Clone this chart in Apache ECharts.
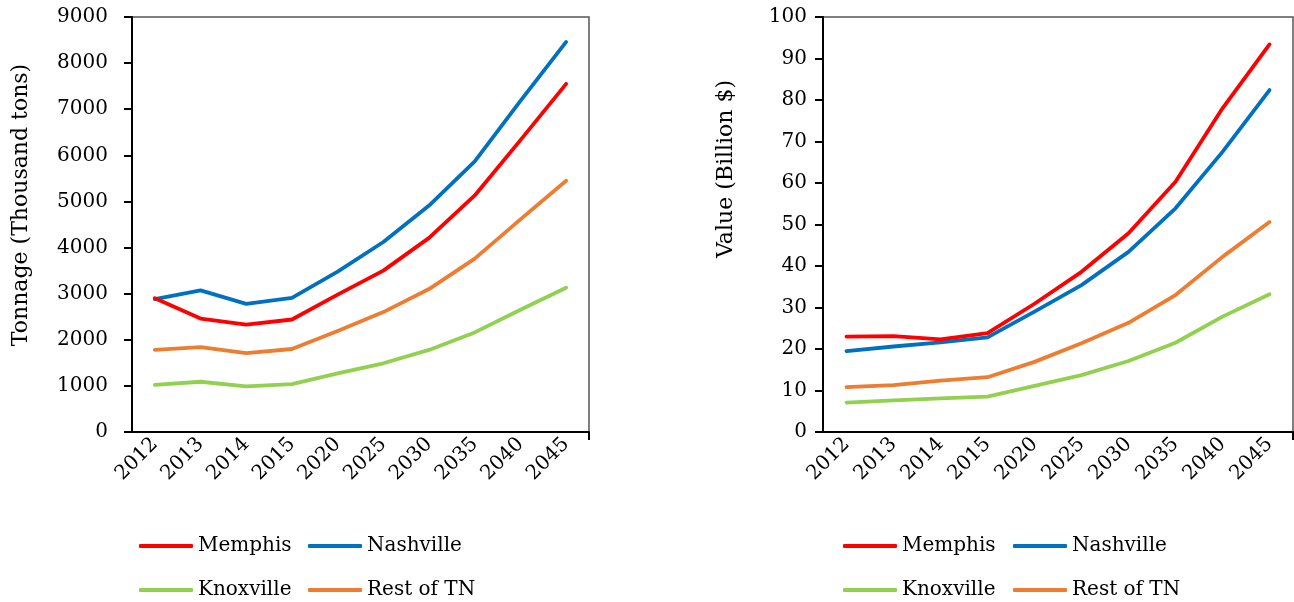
<!DOCTYPE html>
<html>
<head>
<meta charset="utf-8">
<script src="https://cdn.jsdelivr.net/npm/echarts@6/dist/echarts.min.js"></script>
<style>
  html, body { margin: 0; padding: 0; background: #fff; }
  #chart { width: 1294px; height: 602px; }
</style>
</head>
<body>
<div id="chart"></div>
<script>
// Freight forecasts by region: tonnage and value
const years = ['2012', '2013', '2014', '2015', '2020', '2025', '2030', '2035', '2040', '2045'];
const regions = ['Memphis', 'Nashville', 'Knoxville', 'Rest of TN'];
const colors = ['#FF0000', '#0070C0', '#92D050', '#ED7D31'];

// Tonnage (thousand tons)
const tonMemphis   = [2900, 2460, 2330, 2440, 2980, 3500, 4210, 5130, 6330, 7550];
const tonNashville = [2880, 3070, 2780, 2910, 3480, 4120, 4910, 5870, 7180, 8460];
const tonKnoxville = [1020, 1090, 990, 1040, 1270, 1490, 1780, 2160, 2650, 3130];
const tonRest      = [1780, 1840, 1710, 1800, 2190, 2600, 3100, 3760, 4610, 5450];

// Value (billion $)
const valMemphis   = [23.0, 23.1, 22.3, 23.8, 30.9, 38.6, 47.9, 60.3, 78.0, 93.4];
const valNashville = [19.5, 20.6, 21.6, 22.8, 29.0, 35.4, 43.4, 53.9, 67.5, 82.4];
const valKnoxville = [7.1, 7.6, 8.1, 8.5, 11.1, 13.7, 17.1, 21.5, 27.8, 33.2];
const valRest      = [10.8, 11.3, 12.4, 13.2, 16.9, 21.4, 26.3, 33.0, 42.2, 50.6];

const tonTicks = { min: 0, max: 9000, interval: 1000 };
const valTicks = { min: 0, max: 100, interval: 10 };
const tonTitle = 'Tonnage (Thousand tons)';
const valTitle = 'Value (Billion $)';

const FONT = 'DejaVu Serif';
const W = 1294;

// Plot layout
const grids = [
  { left: 132, top: 17, right: W - 589, bottom: 170 },
  { left: 823, top: 17, right: W - 1293, bottom: 170 }
];

function makeX(gridIndex) {
  return {
    type: 'category', gridIndex, data: years, boundaryGap: true,
    axisLine: { lineStyle: { color: '#000', width: 2 } },
    axisTick: { alignWithLabel: true, length: 8, lineStyle: { color: '#000', width: 2 } },
    axisLabel: { rotate: 45, margin: 9, color: '#000', fontFamily: FONT, fontSize: 20 },
    splitLine: { show: false }
  };
}
function makeY(gridIndex, ticks, margin) {
  return {
    type: 'value', gridIndex, min: ticks.min, max: ticks.max, interval: ticks.interval,
    axisLine: { show: true, lineStyle: { color: '#000', width: 2 } },
    axisTick: { show: true, length: 8, lineStyle: { color: '#000', width: 2 } },
    axisLabel: { margin, color: '#000', fontFamily: FONT, fontSize: 20, formatter: v => String(v) },
    splitLine: { show: false }
  };
}

const tonSets = [tonMemphis, tonNashville, tonKnoxville, tonRest];
const valSets = [valMemphis, valNashville, valKnoxville, valRest];

const series = [];
[tonSets, valSets].forEach((sets, gi) => {
  sets.forEach((d, i) => {
    series.push({
      name: regions[i], type: 'line', xAxisIndex: gi, yAxisIndex: gi, data: d,
      symbol: 'none', showSymbol: false, color: colors[i],
      lineStyle: { width: 3.8, color: colors[i], cap: 'round', join: 'round' },
      z: 10 - i
    });
  });
});

// Legend placement: two columns, two rows under each plot
const legendSpots = [
  { base: 139, col2: 308 },
  { base: 843, col2: 1013 }
];
const legendRows = [538, 582];
const legends = [];
legendSpots.forEach(spot => {
  regions.forEach((r, i) => {
    legends.push({
      data: [{ name: r, icon: 'roundRect', itemStyle: { color: colors[i] } }],
      left: i % 2 === 0 ? spot.base : spot.col2,
      top: legendRows[Math.floor(i / 2)] - 2,
      itemWidth: 54, itemHeight: 4, itemGap: 0,
      padding: 0,
      textStyle: { fontFamily: FONT, fontSize: 20, color: '#000' },
      selectedMode: false
    });
  });
});

const option = {
  animation: false,
  backgroundColor: '#fff',
  grid: grids.map(g => Object.assign({ show: true, borderColor: '#555', borderWidth: 1.5, backgroundColor: 'transparent' }, g)),
  xAxis: [makeX(0), makeX(1)],
  yAxis: [makeY(0, tonTicks, 24), makeY(1, valTicks, 16)],
  legend: legends,
  series,
  graphic: [
    { type: 'text', x: 21, y: 205, rotation: Math.PI / 2,
      style: { text: tonTitle, font: '22px "' + FONT + '"', fill: '#000', align: 'center', verticalAlign: 'middle' } },
    { type: 'text', x: 726, y: 169, rotation: Math.PI / 2,
      style: { text: valTitle, font: '22px "' + FONT + '"', fill: '#000', align: 'center', verticalAlign: 'middle' } },
    // closing tick at the right end of each category axis
    ...grids.map(g => ({ type: 'line', shape: { x1: W - g.right, y1: 602 - g.bottom, x2: W - g.right, y2: 602 - g.bottom + 8 },
      style: { stroke: '#000', lineWidth: 2 } }))
  ]
};

const chart = echarts.init(document.getElementById('chart'), null, { renderer: 'canvas' });
chart.setOption(option);
</script>
</body>
</html>
